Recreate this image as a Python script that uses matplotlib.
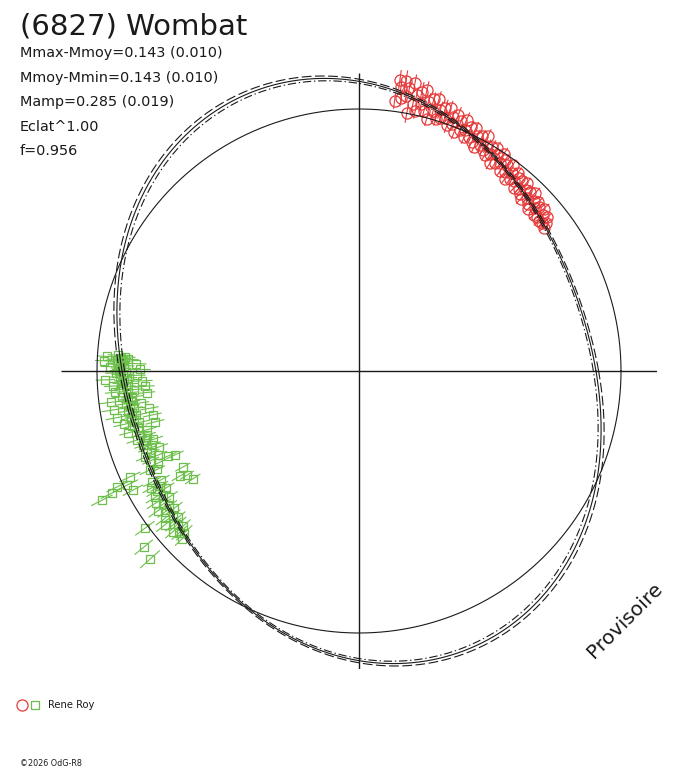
import numpy as np
import matplotlib
matplotlib.use("Agg")
import matplotlib.pyplot as plt
from matplotlib.lines import Line2D
from matplotlib.legend_handler import HandlerTuple

plt.rcParams['font.family'] = ['DejaVu Sans']
plt.rcParams['lines.scale_dashes'] = False

# ---------------- texts ----------------
title = "(6827) Wombat"
stats_lines = ["Mmax-Mmoy=0.143 (0.010)", "Mmoy-Mmin=0.143 (0.010)",
               "Mamp=0.285 (0.019)", "Eclat^1.00", "f=0.956"]
observer = "Rene Roy"
watermark = "Provisoire"
credit = "\u00a92026 OdG-R8"

# ---------------- Fourier fits [a0, a1, b1, a2, b2] (mag) ----------------
fit_solid = [0.000, 0.000, 0.000, 0.1090, 0.0920]
fit_dashed = [-0.010, 0.000, 0.000, 0.1070, 0.0955]
fit_dashdot = [0.010, 0.000, 0.000, 0.1110, 0.0885]

# ---------------- session 1 (red circles) ----------------
red_phase = [82.5, 82.0, 81.6, 81.2, 80.8, 80.3, 79.9, 79.5, 79.0, 78.6,
             78.2, 77.8, 77.3, 76.9, 76.4, 76.0, 75.5, 75.0, 74.6, 74.1,
             73.6, 73.1, 72.7, 72.2, 71.8, 71.3, 70.8, 70.3, 69.8, 69.3,
             68.8, 68.3, 67.8, 67.3, 66.8, 66.3, 65.8, 65.3, 64.8, 64.3,
             63.8, 63.3, 62.8, 62.3, 61.8, 61.3, 60.8, 60.3, 59.8, 59.3,
             58.8, 58.3, 57.8, 57.3, 56.8, 56.3, 55.8, 55.3, 54.8, 54.3,
             53.8, 53.3, 52.8, 52.3, 51.8, 51.3, 50.8, 50.3, 49.8, 49.3,
             48.8, 48.3, 47.8, 47.3, 46.8, 46.3, 45.8, 45.3, 44.8, 44.3,
             43.8, 43.3, 42.8, 42.3, 41.8, 41.3, 40.8, 40.3, 39.8, 39.3,
             38.8, 38.3, 37.8]
red_dm = [-0.042, -0.125, -0.098, -0.057, -0.125, -0.068, -0.102, 0.000, -0.123, -0.041,
          -0.080, -0.018, -0.096, -0.049, -0.107, -0.025, -0.063, 0.004, -0.079, -0.032,
          -0.084, -0.007, -0.045, -0.017, -0.060, -0.023, -0.066, 0.002, -0.036, -0.009,
          -0.051, 0.021, -0.032, 0.005, -0.047, -0.005, 0.022, -0.025, 0.012, -0.030,
          0.027, -0.005, 0.042, -0.015, 0.022, -0.026, 0.037, 0.014, 0.051, 0.004,
          0.036, -0.001, 0.071, 0.024, 0.056, 0.003, 0.045, 0.022, 0.074, 0.037,
          0.064, 0.021, 0.088, 0.051, 0.078, 0.035, 0.072, 0.049, 0.096, 0.048,
          0.085, 0.042, 0.099, 0.066, 0.113, 0.060, 0.092, 0.049, 0.106, 0.078,
          0.120, 0.066, 0.098, 0.080, 0.122, 0.068, 0.115, 0.091, 0.123, 0.084,
          0.116, 0.102, 0.123]
red_err = [0.032, 0.036, 0.030, 0.034, 0.038, 0.029, 0.033, 0.040, 0.031, 0.035,
           0.028, 0.034, 0.037, 0.030, 0.033, 0.029, 0.036, 0.031, 0.027, 0.034,
           0.032, 0.030, 0.035, 0.028, 0.033, 0.031, 0.029, 0.036, 0.030, 0.027,
           0.033, 0.031, 0.028, 0.034, 0.030, 0.026, 0.032, 0.029, 0.031, 0.027,
           0.033, 0.028, 0.030, 0.026, 0.031, 0.029, 0.027, 0.032, 0.028, 0.030,
           0.026, 0.029, 0.031, 0.027, 0.030, 0.028, 0.026, 0.030, 0.027, 0.029,
           0.031, 0.027, 0.028, 0.030, 0.026, 0.029, 0.027, 0.031, 0.028, 0.026,
           0.030, 0.028, 0.027, 0.029, 0.031, 0.026, 0.028, 0.030, 0.027, 0.029,
           0.026, 0.028, 0.030, 0.027, 0.029, 0.031, 0.026, 0.028, 0.030, 0.027,
           0.029, 0.031, 0.028]

# ---------------- session 2 (green squares) ----------------
green_phase = [176.3, 176.5, 176.7, 176.9, 177.1, 177.3, 177.5, 177.7, 177.9, 178.1,
               178.4, 178.7, 179.0, 179.3, 179.6, 179.9, 180.2, 180.5, 180.8, 181.1,
               181.4, 181.7, 182.0, 182.3, 182.6, 182.9, 183.2, 183.5, 183.8, 184.1,
               184.4, 184.7, 185.0, 185.4, 185.8,
               186.2, 186.5, 186.9, 187.2, 187.6, 188.0, 188.3, 188.7, 189.0, 189.4,
               189.8, 190.1, 190.5, 190.9, 191.2, 191.6, 192.0, 192.4, 192.8, 193.2,
               193.6, 194.0, 194.5, 195.0, 195.5,
               196.2, 196.8, 197.3, 197.9, 198.4, 199.0, 199.6, 200.2, 200.8, 201.4,
               202.0, 202.7, 203.3, 204.0, 204.6, 205.3, 206.0,
               204.8, 205.6, 206.2, 206.3, 206.7, 207.8,
               204.5, 208.6, 210.4, 211.2, 213.0,
               208.2, 208.8, 209.4, 210.0, 210.6, 211.2, 211.8, 212.4, 213.0, 213.6,
               214.2, 214.8, 215.4, 216.0, 216.6, 217.2, 217.8, 218.4, 219.0, 219.6,
               220.2, 220.8, 221.4, 222.0, 222.8, 223.5,
               216.3, 219.3, 222.0]
green_dm = [0.088, 0.121, 0.040, 0.104, 0.135, 0.083, 0.112, 0.030, 0.098, 0.175,
            0.090, 0.118, 0.055, 0.105, 0.195, 0.096, 0.127, 0.080, 0.113, 0.180,
            0.101, 0.130, 0.035, 0.119, 0.205, 0.109, 0.135, 0.067, 0.124, 0.215,
            0.112, 0.160, 0.075, 0.131, 0.225,
            0.104, 0.150, 0.128, 0.050, 0.141, 0.117, 0.188, 0.132, 0.060, 0.150,
            0.121, 0.225, 0.136, 0.065, 0.155, 0.127, 0.235, 0.140, 0.090, 0.163,
            0.133, 0.240, 0.148, 0.100, 0.190,
            0.152, 0.185, 0.131, 0.170, 0.205, 0.148, 0.190, 0.162, 0.220, 0.175,
            0.140, 0.198, 0.158, 0.245, 0.182, 0.135, 0.168,
            0.042, -0.025, 0.015, -0.055, -0.101, 0.029,
            0.282, 0.290, 0.253, 0.288, 0.304,
            0.120, 0.158, 0.101, 0.140, 0.118, 0.165, 0.097, 0.132, 0.085, 0.150,
            0.110, 0.074, 0.128, 0.096, 0.142, 0.082, 0.115, 0.062, 0.130, 0.092,
            0.108, 0.070, 0.120, 0.088, 0.105, 0.078,
            -0.014, -0.064, -0.076]
green_err = [0.045, 0.050, 0.041, 0.047, 0.053, 0.043, 0.048, 0.039, 0.046, 0.052,
             0.044, 0.049, 0.040, 0.047, 0.054, 0.042, 0.048, 0.045, 0.051, 0.043,
             0.046, 0.050, 0.041, 0.047, 0.053, 0.044, 0.049, 0.040, 0.046, 0.052,
             0.043, 0.048, 0.045, 0.050, 0.042,
             0.047, 0.052, 0.043, 0.049, 0.045, 0.051, 0.041, 0.048, 0.054, 0.044,
             0.046, 0.050, 0.042, 0.048, 0.053, 0.045, 0.049, 0.043, 0.047, 0.052,
             0.044, 0.050, 0.046, 0.041, 0.048,
             0.049, 0.044, 0.051, 0.046, 0.053, 0.042, 0.048, 0.045, 0.050, 0.043,
             0.047, 0.052, 0.044, 0.049, 0.046, 0.051, 0.043,
             0.050, 0.047, 0.052, 0.048, 0.045, 0.049,
             0.051, 0.046, 0.049, 0.044, 0.050,
             0.046, 0.051, 0.043, 0.048, 0.053, 0.045, 0.049, 0.042, 0.047, 0.052,
             0.044, 0.050, 0.046, 0.041, 0.048, 0.053, 0.045, 0.049, 0.043, 0.047,
             0.051, 0.044, 0.048, 0.046, 0.050, 0.043,
             0.049, 0.046, 0.051]

RED = "#e63b3b"
GREEN = "#6cbf4a"
INK = "#1a1a1a"


def fourier(c, th):
    return (c[0] + c[1] * np.cos(th) + c[2] * np.sin(th)
            + c[3] * np.cos(2 * th) + c[4] * np.sin(2 * th))


def mag_to_r(dm):
    # radius proportional to flux, mean level = 1
    return 10 ** (-0.4 * np.asarray(dm, dtype=float))


# ---------------- figure ----------------
W, H = 688, 768
fig = plt.figure(figsize=(W / 100, H / 100), dpi=100)
fig.patch.set_facecolor("white")

cx, cy, Rpx, R0px = 359, 371, 298, 262
ax = fig.add_axes([(cx - Rpx) / W, (H - cy - Rpx) / H, 2 * Rpx / W, 2 * Rpx / H],
                  projection="polar")
RMAX = Rpx / R0px
ax.axis("off")

# data points with radial error bars
for ph, dm, er, col, mk, ms in [(red_phase, red_dm, red_err, RED, "o", 8.0),
                                (green_phase, green_dm, green_err, GREEN, "s", 6.0)]:
    th = np.deg2rad(ph)
    dm = np.asarray(dm)
    er = np.asarray(er)
    r = mag_to_r(dm)
    r_hi = mag_to_r(dm - er)
    r_lo = mag_to_r(dm + er)
    ax.errorbar(th, r, yerr=[r - r_lo, r_hi - r], fmt="none", ecolor=col,
                elinewidth=0.8, capsize=0, zorder=2, clip_on=False)
    ax.plot(th, r, ls="none", marker=mk, ms=ms, mfc="none", mec=col, mew=0.9,
            zorder=2, clip_on=False)

# fits and mean circle
tgrid = np.linspace(0, 2 * np.pi, 1441)
ax.plot(tgrid, mag_to_r(np.zeros_like(tgrid)), color=INK, lw=0.8, zorder=3, clip_on=False)
ax.plot(tgrid, mag_to_r(fourier(fit_solid, tgrid)), color=INK, lw=0.8, zorder=3, clip_on=False)
ax.plot(tgrid, mag_to_r(fourier(fit_dashed, tgrid)), color=INK, lw=0.8,
        dashes=(7, 2.5), zorder=3, clip_on=False)
ax.plot(tgrid, mag_to_r(fourier(fit_dashdot, tgrid)), color=INK, lw=0.8,
        dashes=(6, 2, 1, 2), zorder=3, clip_on=False)

# cross axes
ax.vlines(np.deg2rad([0, 90, 180, 270]), 0, RMAX, color=INK, lw=1.0, zorder=3)
ax.set_rlim(0, RMAX)

# ---------------- texts ----------------
fig.text(20 / W, 1 - 35 / H, title, fontsize=21, color=INK, va="baseline", ha="left")
for i, s in enumerate(stats_lines):
    fig.text(20 / W, 1 - (57 + 24.6 * i) / H, s, fontsize=10.4, color=INK,
             va="baseline", ha="left")

fig.text(625 / W, 1 - 620 / H, watermark, fontsize=14.5, color=INK, rotation=45,
         ha="center", va="center", rotation_mode="anchor")

fig.text(20 / W, 1 - 764 / H, credit, fontsize=5.8, color=INK, va="center", ha="left")

h_red = Line2D([], [], ls="none", marker="o", ms=8, mfc="none", mec=RED, mew=0.9)
h_green = Line2D([], [], ls="none", marker="s", ms=6, mfc="none", mec=GREEN, mew=0.9)
fig.legend([(h_red, h_green)], [observer],
           handler_map={tuple: HandlerTuple(ndivide=None, pad=0)},
           loc="center left", bbox_to_anchor=(16 / W, 1 - 705 / H),
           frameon=False, fontsize=7.2, handlelength=2.5, handletextpad=0.65,
           borderpad=0, borderaxespad=0, labelcolor=INK)

fig.savefig("out.png", dpi=100, facecolor="white")
